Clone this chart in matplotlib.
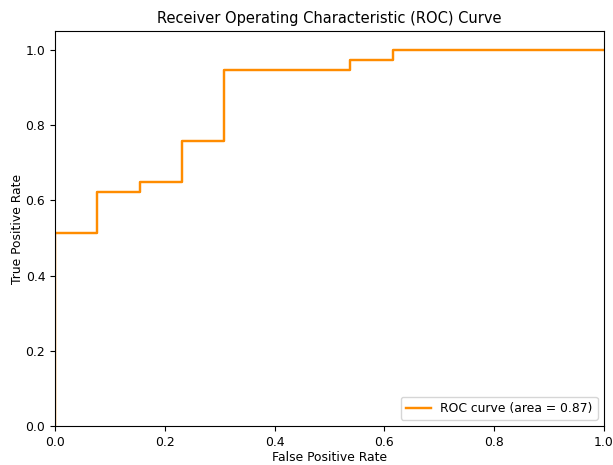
import matplotlib
matplotlib.use("Agg")
import matplotlib.pyplot as plt

# ROC points (13 negatives, 37 positives)
fpr = [0.0, 0.0, 0.077, 0.077, 0.154, 0.154, 0.231, 0.231, 0.308, 0.308, 0.538, 0.538, 0.615, 0.615, 1.0]
tpr = [0.0, 0.514, 0.514, 0.622, 0.622, 0.649, 0.649, 0.757, 0.757, 0.946, 0.946, 0.973, 0.973, 1.0, 1.0]
roc_auc = 0.87

fig = plt.figure(figsize=(6.13, 4.65), dpi=100)
ax = fig.add_axes([0.0897, 0.0839, 0.8956, 0.8495])

ax.plot(fpr, tpr, color='darkorange', lw=1.75, label='ROC curve (area = %0.2f)' % roc_auc)
ax.set_xlim([0.0, 1.0])
ax.set_ylim([0.0, 1.05])
ax.set_xlabel('False Positive Rate', fontsize=8.9, labelpad=2)
ax.set_ylabel('True Positive Rate', fontsize=8.9, labelpad=1)
ax.set_title('Receiver Operating Characteristic (ROC) Curve', fontsize=10.5)
ax.tick_params(labelsize=8.9)
ax.legend(loc="lower right", fontsize=8.9)

fig.savefig('out.png', dpi=100)
